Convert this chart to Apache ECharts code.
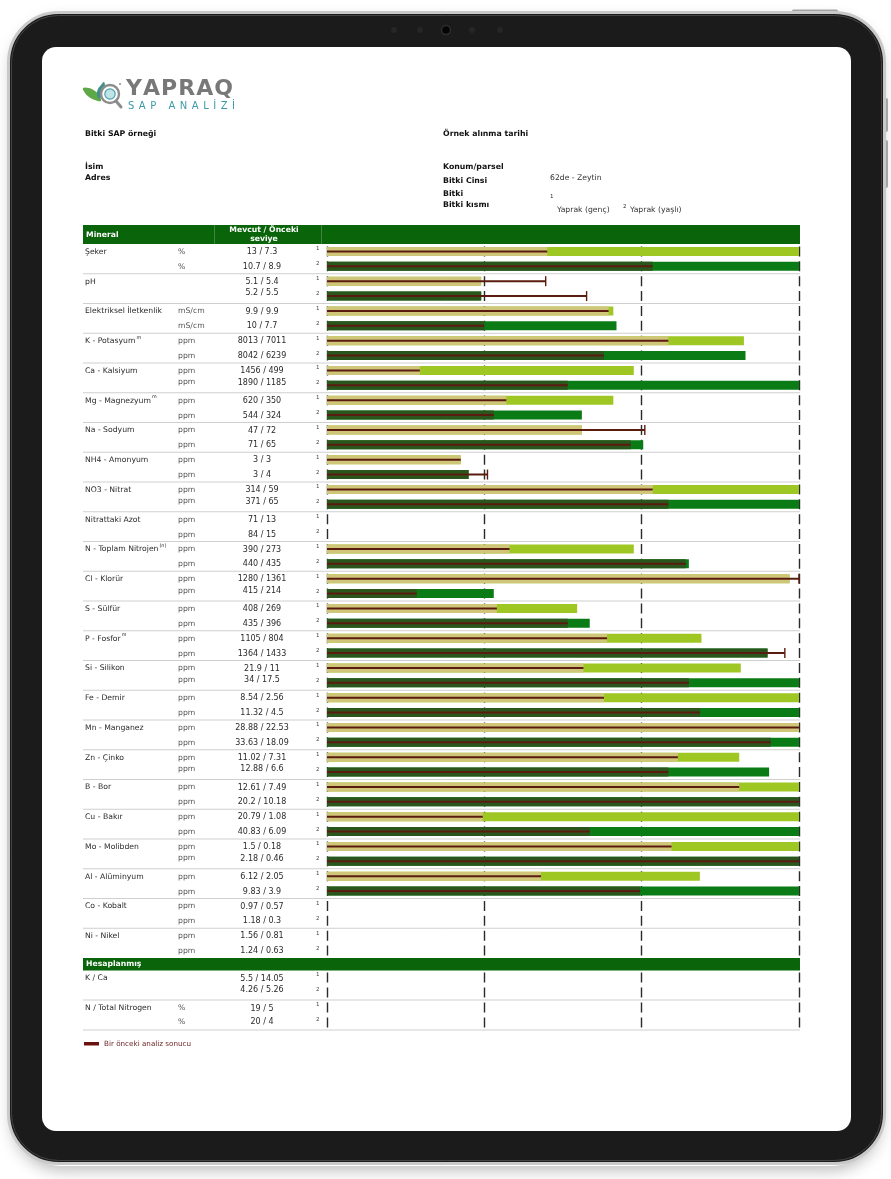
<!DOCTYPE html>
<html><head><meta charset="utf-8">
<script src="https://cdn.jsdelivr.net/npm/echarts@6/dist/echarts.min.js"></script>
<style>html,body{margin:0;padding:0;background:#fff}#c{width:891px;height:1179px}</style>
</head><body><div id="c"></div>
<script>
// ---------- DATA ----------
const minerals = ['Şeker','pH','Elektriksel İletkenlik','K - Potasyum','Ca - Kalsiyum','Mg - Magnezyum','Na - Sodyum','NH4 - Amonyum','NO3 - Nitrat','Nitrattaki Azot','N - Toplam Nitrojen','Cl - Klorür','S - Sülfür','P - Fosfor','Si - Silikon','Fe - Demir','Mn - Manganez','Zn - Çinko','B - Bor','Cu - Bakır','Mo - Molibden','Al - Alüminyum','Co - Kobalt','Ni - Nikel'];
const mineralMarks = ['','','','m','','m','','','','','(n)','','','m','','','','','','','','','',''];
const units = ['%','','mS/cm','ppm','ppm','ppm','ppm','ppm','ppm','ppm','ppm','ppm','ppm','ppm','ppm','ppm','ppm','ppm','ppm','ppm','ppm','ppm','ppm','ppm'];
// measured values: sample 1 (young leaf) and sample 2 (old leaf), current / previous
const cur1  = [13, 5.1, 9.9, 8013, 1456, 620, 47, 3, 314, 71, 390, 1280, 408, 1105, 21.9, 8.54, 28.88, 11.02, 12.61, 20.79, 1.5, 6.12, 0.97, 1.56];
const prev1 = [7.3, 5.4, 9.9, 7011, 499, 350, 72, 3, 59, 13, 273, 1361, 269, 804, 11, 2.56, 22.53, 7.31, 7.49, 1.08, 0.18, 2.05, 0.57, 0.81];
const cur2  = [10.7, 5.2, 10, 8042, 1890, 544, 71, 3, 371, 84, 440, 415, 435, 1364, 34, 11.32, 33.63, 12.88, 20.2, 40.83, 2.18, 9.83, 1.18, 1.24];
const prev2 = [8.9, 5.5, 7.7, 6239, 1185, 324, 65, 4, 65, 15, 435, 214, 396, 1433, 17.5, 4.5, 18.09, 6.6, 10.18, 6.09, 0.46, 3.9, 0.3, 0.63];
// bar lengths on the 0–3 level scale
const barCur1  = [3.0, 0.98, 1.82, 2.65, 1.95, 1.82, 1.62, 0.85, 3.0, null, 1.95, 2.94, 1.59, 2.38, 2.63, 3.0, 3.0, 2.62, 3.0, 3.0, 3.0, 2.37, null, null];
const barPrev1 = [1.40, 1.39, 1.79, 2.17, 0.59, 1.14, 2.02, 0.85, 2.07, null, 1.16, 3.0, 1.08, 1.78, 1.63, 1.76, 3.0, 2.23, 2.62, 0.99, 2.19, 1.36, null, null];
const barCur2  = [3.0, 0.98, 1.84, 2.66, 3.0, 1.62, 2.01, 0.90, 3.0, null, 2.30, 1.06, 1.67, 2.80, 3.0, 3.0, 3.0, 2.81, 3.0, 3.0, 3.0, 3.0, null, null];
const barPrev2 = [2.07, 1.65, 1.00, 1.76, 1.53, 1.06, 1.93, 1.02, 2.17, null, 2.28, 0.57, 1.53, 2.91, 2.30, 2.37, 2.82, 2.17, 3.0, 1.67, 3.0, 1.99, null, null];
// computed section
const calcNames = ['K / Ca', 'N / Total Nitrogen'];
const calcUnits = ['', '%'];
const calcCur1  = [5.5, 19];
const calcPrev1 = [14.05, 5];
const calcCur2  = [4.26, 20];
const calcPrev2 = [5.26, 4];

// ---------- LAYOUT ----------
const FF = 'DejaVu Sans';
const TOP = 244, BLOCK = 29.75, X_NAME = 85, X_UNIT = 178, X_VAL = 262, X_IDX = 316;
const tightBlocks = [1, 4, 8, 11, 14, 17, 20];
const COL = {light:'#9fc723', green:'#0b7c15', khaki:'#d0c67a', dark:'#2a561d', line:'#5a1c0e', head:'#0a640a'};

const g = [];
const T = (x, y, text, o) => ({type:'text', x, y, z:10, silent:true,
  style: Object.assign({text, fill:'#2a2a2a', fontSize:7.7, fontFamily:FF, verticalAlign:'middle', align:'left'}, o || {})});
const hline = (y) => ({type:'line', z:5, silent:true, shape:{x1:83, y1:y, x2:800, y2:y}, style:{stroke:'#cfcfcf', lineWidth:1}});
const nameText = (x, y, name, mark) => ({type:'text', x, y, z:10, silent:true, style:{
  text: mark ? '{n|' + name + '}{s|' + mark + '}' : '{n|' + name + '}',
  verticalAlign:'middle',
  rich:{n:{fontSize:7.7, fontFamily:FF, fill:'#2a2a2a'}, s:{fontSize:4.8, fontFamily:FF, fill:'#2a2a2a', padding:[0,0,7,1]}}}});
const fmt = (a, b) => a + ' / ' + b;
const VAL = {align:'center', fontSize:8};

// tablet frame
g.push({type:'rect', z:-20, silent:true, shape:{x:12, y:16, width:869, height:1150, r:50},
  style:{fill:'#ffffff', shadowBlur:16, shadowColor:'rgba(0,0,0,0.28)', shadowOffsetY:4}});
g.push({type:'rect', z:-19, silent:true, shape:{x:8.5, y:12.5, width:876, height:1151, r:50},
  style:{fill:'#1b1b1b', stroke:'#c9c9c9', lineWidth:3}});
g.push({type:'rect', z:-19, silent:true, shape:{x:11.5, y:15.5, width:870, height:1145, r:47},
  style:{fill:'none', stroke:'#444', lineWidth:1}});
g.push({type:'rect', z:-18, silent:true, shape:{x:42, y:47, width:809, height:1084, r:14}, style:{fill:'#ffffff'}});
g.push({type:'rect', z:-21, silent:true, shape:{x:792, y:9.5, width:46, height:4, r:1.5}, style:{fill:'#a9a9a9'}});
g.push({type:'rect', z:-21, silent:true, shape:{x:882, y:98, width:6, height:34, r:2}, style:{fill:'#b0b0b0'}});
g.push({type:'rect', z:-21, silent:true, shape:{x:882, y:140, width:6, height:48, r:2}, style:{fill:'#b0b0b0'}});
g.push({type:'circle', z:-17, silent:true, shape:{cx:446, cy:30, r:4.5}, style:{fill:'#050505', stroke:'#2e2e2e', lineWidth:1.5}});
[[394,30],[420,30],[472,30],[500,30]].forEach(p => g.push({type:'circle', z:-17, silent:true, shape:{cx:p[0], cy:p[1], r:3}, style:{fill:'#262626'}}));

// logo
g.push({type:'polygon', z:10, silent:true, shape:{points:[[101,101],[95,100],[89,97],[85,93],[83,88],[89,88],[95,91],[99,95]], smooth:0.4}, style:{fill:'#5ea848'}});
g.push({type:'polygon', z:10, silent:true, shape:{points:[[99,99],[97,94],[98,89],[101,85],[104,82],[105,87],[104,93],[101,97]], smooth:0.4}, style:{fill:'#3f8f8a'}});
g.push({type:'circle', z:11, silent:true, shape:{cx:110, cy:94, r:9}, style:{fill:'#ffffff', stroke:'#8c8c8c', lineWidth:2.4}});
g.push({type:'circle', z:12, silent:true, shape:{cx:110, cy:94, r:5.2}, style:{fill:'#bfe3e6', stroke:'#4aa0ab', lineWidth:1.2}});
g.push({type:'line', z:11, silent:true, shape:{x1:116, y1:101, x2:121, y2:107}, style:{stroke:'#8c8c8c', lineWidth:3, lineCap:'round'}});
g.push({type:'circle', z:11, silent:true, shape:{cx:120, cy:84, r:1}, style:{fill:'#8c8c8c'}});
// letter-spaced logo words
const ctx = document.createElement('canvas').getContext('2d');
function spaced(word, x0, x1, y, font, style) {
  ctx.font = font;
  const ws = [...word].map(ch => ctx.measureText(ch).width);
  const total = ws.reduce((a, b) => a + b, 0);
  const gap = (x1 - x0 - total) / (ws.length - 1);
  let x = x0;
  [...word].forEach((ch, i) => {
    if (ch !== ' ') g.push({type:'text', x, y, z:10, silent:true, style:Object.assign({text:ch, font, verticalAlign:'middle', align:'left'}, style)});
    x += ws[i] + gap;
  });
}
spaced('YAPRAQ', 126, 233, 89.5, 'bold 22px "DejaVu Sans"', {fill:'#787878'});
spaced('SAP ANALİZİ', 128, 235, 106.5, '10px "DejaVu Sans"', {fill:'#3d99a8'});

// header info
const B = {fontWeight:'bold', fontSize:7.8, fill:'#111'};
g.push(T(85, 134, 'Bitki SAP örneği', B));
g.push(T(443, 134, 'Örnek alınma tarihi', B));
g.push(T(85, 167, 'İsim', B));
g.push(T(85, 177.5, 'Adres', B));
g.push(T(443, 167, 'Konum/parsel', B));
g.push(T(443, 181, 'Bitki Cinsi', B));
g.push(T(550, 178, '62de - Zeytin', {fill:'#333'}));
g.push(T(443, 194, 'Bitki', B));
g.push(T(443, 205, 'Bitki kısmı', B));
g.push(T(550, 197, '1', {fontSize:5.5}));
g.push(T(557, 210.5, 'Yaprak (genç)', {fill:'#333'}));
g.push(T(623, 206.5, '2', {fontSize:5.5}));
g.push(T(630, 210.5, 'Yaprak (yaşlı)', {fill:'#333'}));

// table header
g.push({type:'rect', z:5, silent:true, shape:{x:83, y:225, width:717, height:19}, style:{fill:COL.head}});
g.push({type:'line', z:6, silent:true, shape:{x1:214.5, y1:225, x2:214.5, y2:244}, style:{stroke:'rgba(255,255,255,0.22)', lineWidth:1}});
g.push({type:'line', z:6, silent:true, shape:{x1:321.5, y1:225, x2:321.5, y2:244}, style:{stroke:'rgba(255,255,255,0.22)', lineWidth:1}});
const W = {fill:'#ffffff', fontWeight:'bold', fontSize:7.7};
g.push(T(86, 235, 'Mineral', W));
g.push(T(264, 230, 'Mevcut / Önceki', Object.assign({align:'center'}, W)));
g.push(T(264, 239, 'seviye', Object.assign({align:'center'}, W)));

// mineral rows
minerals.forEach((m, i) => {
  const top = TOP + BLOCK * i;
  const tight = tightBlocks.includes(i);
  const y1 = top + 8, y2 = top + (tight ? 19.5 : 22.8);
  g.push(nameText(X_NAME, y1, m, mineralMarks[i]));
  if (units[i]) { g.push(T(X_UNIT, y1, units[i], {fill:'#555'})); g.push(T(X_UNIT, y2, units[i], {fill:'#555'})); }
  g.push(T(X_VAL, y1, fmt(cur1[i], prev1[i]), VAL));
  g.push(T(X_VAL, y2, fmt(cur2[i], prev2[i]), VAL));
  g.push(T(X_IDX, top + 5, '1', {fontSize:5.5, fill:'#444'}));
  g.push(T(X_IDX, top + 20, '2', {fontSize:5.5, fill:'#444'}));
  if (i > 0) g.push(hline(top));
});

// computed section
g.push({type:'rect', z:5, silent:true, shape:{x:83, y:958, width:717, height:12.5}, style:{fill:COL.head}});
g.push(T(86, 964.5, 'Hesaplanmış', W));
calcNames.forEach((m, i) => {
  const top = 970 + 30 * i;
  const tight = i === 0;
  const y1 = top + 8.5, y2 = top + (tight ? 19.8 : 22);
  g.push(nameText(X_NAME, y1, m, ''));
  if (calcUnits[i]) { g.push(T(X_UNIT, y1, calcUnits[i], {fill:'#555'})); g.push(T(X_UNIT, y2, calcUnits[i], {fill:'#555'})); }
  g.push(T(X_VAL, y1, fmt(calcCur1[i], calcPrev1[i]), VAL));
  g.push(T(X_VAL, y2, fmt(calcCur2[i], calcPrev2[i]), VAL));
  g.push(T(X_IDX, top + 5, '1', {fontSize:5.5, fill:'#444'}));
  g.push(T(X_IDX, top + 20, '2', {fontSize:5.5, fill:'#444'}));
  g.push(hline(top + 30));
});

// legend
g.push({type:'rect', z:10, silent:true, shape:{x:84, y:1042, width:15, height:3.5}, style:{fill:'#6b1111'}});
g.push(T(104, 1044, 'Bir önceki analiz sonucu', {fill:'#6b2525', fontSize:7.2}));

// ---------- SERIES DATA ----------
const rowsCur = [], rowsPrev = [], cats = [];
minerals.forEach((m, i) => {
  rowsCur.push(barCur1[i], barCur2[i]);
  rowsPrev.push(barPrev1[i], barPrev2[i]);
  cats.push(m + ' 1', m + ' 2');
});
const calcCats = [];
calcNames.forEach(n => calcCats.push(n + ' 1', n + ' 2'));

const curData = rowsCur.map((v, k) => v == null ? '-' : {value:v, itemStyle:{color: k % 2 ? COL.green : COL.light}});
const ovData = rowsCur.map((v, k) => (v == null || rowsPrev[k] == null) ? '-' :
  {value: Math.min(v, rowsPrev[k]), itemStyle:{color: k % 2 ? COL.dark : COL.khaki}});
const lineData = rowsPrev.map((p, k) => [p == null ? 0 : p, k, rowsCur[k] == null ? 0 : rowsCur[k]]);

const slotA = 714 / 48, slotB = 15;
const axisX = (idx, slot) => ({type:'value', gridIndex:idx, min:0, max:3, interval:1,
  axisLine:{show:false}, axisTick:{show:false}, axisLabel:{show:false},
  splitLine:{show:true, lineStyle:{color:'#2a2a2a', width:1.4, type:[10, slot - 10], dashOffset: slot - (slot - 10) / 2}}});
const axisY = (idx, data) => ({type:'category', gridIndex:idx, data, inverse:true,
  axisLine:{show:false}, axisTick:{show:false}, axisLabel:{show:false}, splitLine:{show:false}});

const chart = echarts.init(document.getElementById('c'), null, {renderer:'canvas'});
chart.setOption({
  animation:false,
  backgroundColor:'#ffffff',
  grid:[
    {left:327, top:244, width:472, height:714},
    {left:327, top:970, width:472, height:60}
  ],
  xAxis:[axisX(0, slotA), axisX(1, slotB)],
  yAxis:[axisY(0, cats), axisY(1, calcCats)],
  series:[
    {name:'Mevcut', type:'bar', xAxisIndex:0, yAxisIndex:0, data:curData, barWidth:9, barGap:'-100%', z:3},
    {name:'Önceki (örtüşen)', type:'bar', xAxisIndex:0, yAxisIndex:0, data:ovData, barWidth:9, barGap:'-100%', z:4},
    {name:'Bir önceki analiz sonucu', type:'custom', xAxisIndex:0, yAxisIndex:0, z:5, data:lineData,
      encode:{x:0, y:1},
      renderItem:(params, api) => {
        const p = api.value(0), k = api.value(1), c = api.value(2);
        if (!p) return null;
        const s = api.coord([0, k]), e = api.coord([p, k]);
        const h = 2.1;
        const ch = [{type:'rect', shape:{x:s[0], y:s[1] - h / 2, width:e[0] - s[0], height:h}, style:{fill:COL.line}}];
        if (p > c) ch.push({type:'rect', shape:{x:e[0] - 0.7, y:e[1] - 5, width:1.4, height:10}, style:{fill:COL.line}});
        return {type:'group', children:ch};
      }},
    {name:'Hesaplanmış', type:'bar', xAxisIndex:1, yAxisIndex:1, data:calcCats.map(() => '-'), barWidth:9}
  ],
  graphic:{elements:g}
});
</script></body></html>
